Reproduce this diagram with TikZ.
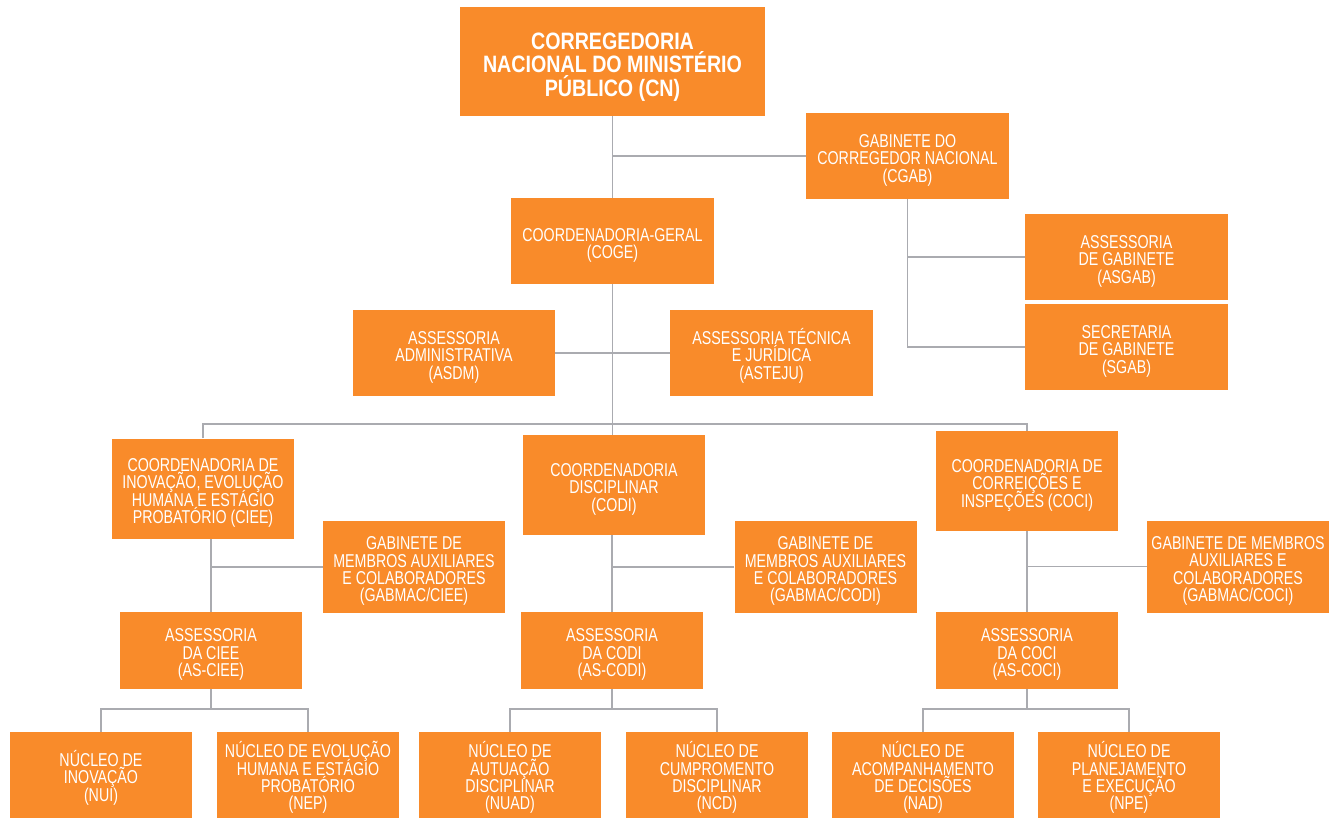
\documentclass[tikz,border=0pt]{standalone}
\usepackage{fontspec}
\usepackage{tikz}
\newfontfamily\orgfont[FakeStretch=0.765]{Liberation Sans}
\newfontfamily\orgtitle[FakeStretch=0.83]{Liberation Sans}
\definecolor{colBox}{RGB}{249,139,42}
\definecolor{colLink}{RGB}{170,171,176}
% strut that pushes the text block a little lower in its box
\newcommand{\boxtop}{\rule{0pt}{21.5pt}}
\newcommand{\titletop}{\rule{0pt}{27.5pt}}
\newcommand{\tightlines}{\lineskiplimit=-20pt\relax}
\tikzset{
  unit/.style={fill=colBox, text=white, align=center, inner sep=0pt,
    font=\orgfont\fontsize{18.6}{17.4}\selectfont\tightlines},
  dims/.style 2 args={minimum width=#1pt, minimum height=#2pt},
  link/.style={draw=colLink, line width=1.8pt}
}

\begin{document}
\begin{tikzpicture}[x=1pt, y=-1pt]
  \useasboundingbox (0,0) rectangle (1337,818);
  % top
  \node[unit, dims={305}{109}, font=\orgtitle\bfseries\fontsize{23.7}{23.5}\selectfont\tightlines] (cn) at (612.5,61.5)
    {\titletop CORREGEDORIA\\NACIONAL DO MINISTÉRIO\\PÚBLICO (CN)};
  \node[unit, dims={203}{86}] (cgab) at (907.5,156) {\boxtop GABINETE DO\\CORREGEDOR NACIONAL\\(CGAB)};
  \node[unit, dims={203}{86}] (coge) at (612.5,241) {\boxtop COORDENADORIA-GERAL\\(COGE)};
  \node[unit, dims={203}{86}] (asgab) at (1126.5,257) {\boxtop ASSESSORIA\\DE GABINETE\\(ASGAB)};
  \node[unit, dims={203}{86}] (sgab) at (1126.5,347) {\boxtop SECRETARIA\\DE GABINETE\\(SGAB)};
  \node[unit, dims={202}{86}] (asdm) at (454,353) {\boxtop ASSESSORIA\\ADMINISTRATIVA\\(ASDM)};
  \node[unit, dims={203}{86}] (asteju) at (771.5,353) {\boxtop ASSESSORIA TÉCNICA\\E JURÍDICA\\(ASTEJU)};
  % coordenadorias
  \node[unit, dims={182}{100}] (ciee) at (203,488.5)
    {\boxtop COORDENADORIA DE\\INOVAÇÃO, EVOLUÇÃO\\HUMANA E ESTÁGIO\\PROBATÓRIO (CIEE)};
  \node[unit, dims={182}{100}] (codi) at (614,485) {\boxtop COORDENADORIA\\DISCIPLINAR\\(CODI)};
  \node[unit, dims={182}{100}] (coci) at (1027,481) {\boxtop COORDENADORIA DE\\CORREIÇÕES E\\INSPEÇÕES (COCI)};
  % gabinetes de membros
  \node[unit, dims={182}{92}] (gabciee) at (414,567)
    {\boxtop GABINETE DE\\MEMBROS AUXILIARES\\E COLABORADORES\\(GABMAC/CIEE)};
  \node[unit, dims={182}{92}] (gabcodi) at (825.5,567)
    {\boxtop GABINETE DE\\MEMBROS AUXILIARES\\E COLABORADORES\\(GABMAC/CODI)};
  \node[unit, dims={182}{92}] (gabcoci) at (1238,566.5)
    {\boxtop GABINETE DE MEMBROS\\AUXILIARES E\\COLABORADORES\\(GABMAC/COCI)};
  % assessorias
  \node[unit, dims={182}{77}] (asciee) at (211,650.5) {\boxtop ASSESSORIA\\DA CIEE\\(AS-CIEE)};
  \node[unit, dims={182}{77}] (ascodi) at (612,650.5) {\boxtop ASSESSORIA\\DA CODI\\(AS-CODI)};
  \node[unit, dims={182}{77}] (ascoci) at (1027,650.5) {\boxtop ASSESSORIA\\DA COCI\\(AS-COCI)};
  % nucleos
  \node[unit, dims={182}{86}] (nui) at (101,775) {\boxtop NÚCLEO DE\\INOVAÇÃO\\(NUI)};
  \node[unit, dims={182}{86}] (nep) at (308,775) {\boxtop NÚCLEO DE EVOLUÇÃO\\HUMANA E ESTÁGIO\\PROBATÓRIO\\(NEP)};
  \node[unit, dims={182}{86}] (nuad) at (510,775) {\boxtop NÚCLEO DE\\AUTUAÇÃO\\DISCIPLINAR\\(NUAD)};
  \node[unit, dims={182}{86}] (ncd) at (717,775) {\boxtop NÚCLEO DE\\CUMPROMENTO\\DISCIPLINAR\\(NCD)};
  \node[unit, dims={182}{86}] (nad) at (923,775) {\boxtop NÚCLEO DE\\ACOMPANHAMENTO\\DE DECISÕES\\(NAD)};
  \node[unit, dims={182}{86}] (npe) at (1129,775) {\boxtop NÚCLEO DE\\PLANEJAMENTO\\E EXECUÇÃO\\(NPE)};
  % links
  \coordinate (bus) at (612.5,424);
  \draw[link] (cn) -- (coge);
  \draw[link] (cgab.west) -- (cgab.west -| cn.south);
  \draw[link] (cgab.south) |- (asgab.west);
  \draw[link] (cgab.south) |- (sgab.west);
  \draw[link] (coge.south) -- (bus);
  \draw[link] (asdm.east) -- (asteju.west);
  \draw[link] (ciee.north) |- (bus) -| (coci.north);
  \draw[link] (bus) -- (bus |- codi.north);
  \foreach \c/\g/\a in {ciee/gabciee/asciee, codi/gabcodi/ascodi, coci/gabcoci/ascoci} {
    \draw[link] (\a.north) -- (\a.north |- \c.south);
    \draw[link] (\g.west) -- (\g.west -| \a.north);
  }
  \foreach \p/\l/\r in {asciee/nui/nep, ascodi/nuad/ncd, ascoci/nad/npe} {
    \draw[link] (\p.south) -- ++(0,20) coordinate (\p-j);
    \draw[link] (\l.north) |- (\p-j) -| (\r.north);
  }
\end{tikzpicture}
\end{document}
